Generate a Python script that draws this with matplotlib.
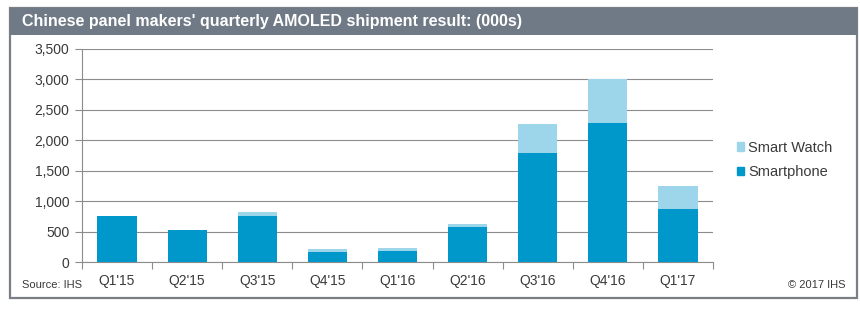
import matplotlib.pyplot as plt
import matplotlib.patches as mpatches
from matplotlib.ticker import FuncFormatter, MultipleLocator

quarters = ["Q1'15", "Q2'15", "Q3'15", "Q4'15", "Q1'16", "Q2'16", "Q3'16", "Q4'16", "Q1'17"]
smartphone = [755, 525, 760, 165, 185, 575, 1790, 2290, 870]
smart_watch = [5, 5, 65, 50, 45, 55, 480, 715, 385]

PHONE_COLOR = "#0097CB"
WATCH_COLOR = "#9DD6EA"
GRID_COLOR = "#8C8C8C"
TEXT_COLOR = "#3A3A3A"

plt.rcParams["font.family"] = ["Liberation Sans", "DejaVu Sans"]

fig = plt.figure(figsize=(8.6, 3.21), dpi=100)

# outer frame and title bar
frame = mpatches.Rectangle((10 / 860, 1 - 298 / 321), 847 / 860, 290 / 321,
                           transform=fig.transFigure, fill=False,
                           edgecolor="#7A7F86", linewidth=1.6)
fig.patches.append(frame)
bar = mpatches.Rectangle((10 / 860, 1 - 35 / 321), 847 / 860, 27 / 321,
                         transform=fig.transFigure, facecolor="#707A86",
                         edgecolor="none")
fig.patches.append(bar)
fig.text(22 / 860, 1 - 21.5 / 321,
         "Chinese panel makers' quarterly AMOLED shipment result: (000s)",
         color="white", fontsize=11.5, fontweight="bold", va="center", ha="left")

ax = fig.add_axes([82 / 860, 1 - 262 / 321, 631 / 860, 213 / 321])
x = list(range(len(quarters)))
ax.bar(x, smartphone, width=0.56, color=PHONE_COLOR, label="Smartphone", zorder=3)
ax.bar(x, smart_watch, width=0.56, bottom=smartphone, color=WATCH_COLOR,
       label="Smart Watch", zorder=3)

ax.set_xlim(-0.5, len(quarters) - 0.5)
ax.set_ylim(0, 3500)
ax.yaxis.set_major_locator(MultipleLocator(500))
ax.yaxis.set_major_formatter(FuncFormatter(lambda v, p: f"{int(v):,}"))
ax.grid(axis="y", color=GRID_COLOR, linewidth=0.8, zorder=0)

ax.set_xticks(x)
ax.set_xticklabels(quarters)
ax.set_xticks([i + 0.5 for i in range(-1, len(quarters))], minor=True)
ax.tick_params(axis="x", which="major", length=0, pad=9, labelsize=10, labelcolor=TEXT_COLOR)
ax.tick_params(axis="x", which="minor", length=5, width=0.8, color=GRID_COLOR, direction="out")
ax.tick_params(axis="y", length=5, width=0.8, color=GRID_COLOR, labelsize=10,
               labelcolor=TEXT_COLOR, pad=4)

for side in ["top", "right"]:
    ax.spines[side].set_visible(False)
for side in ["left", "bottom"]:
    ax.spines[side].set_color(GRID_COLOR)
    ax.spines[side].set_linewidth(0.8)

handles = [mpatches.Patch(color=WATCH_COLOR, label="Smart Watch"),
           mpatches.Patch(color=PHONE_COLOR, label="Smartphone")]
fig.legend(handles=handles, loc="center left", bbox_to_anchor=(724 / 860, 1 - 160 / 321),
           frameon=False, fontsize=10.5, handlelength=0.5, handleheight=0.5,
           handletextpad=0.25, labelspacing=0.75, labelcolor=TEXT_COLOR)

fig.text(22 / 860, 1 - 285 / 321, "Source: IHS", fontsize=8, color=TEXT_COLOR, va="center")
fig.text(845 / 860, 1 - 285 / 321, "\u00a9 2017 IHS", fontsize=8, color=TEXT_COLOR,
         va="center", ha="right")

fig.savefig("out.png", dpi=100)
